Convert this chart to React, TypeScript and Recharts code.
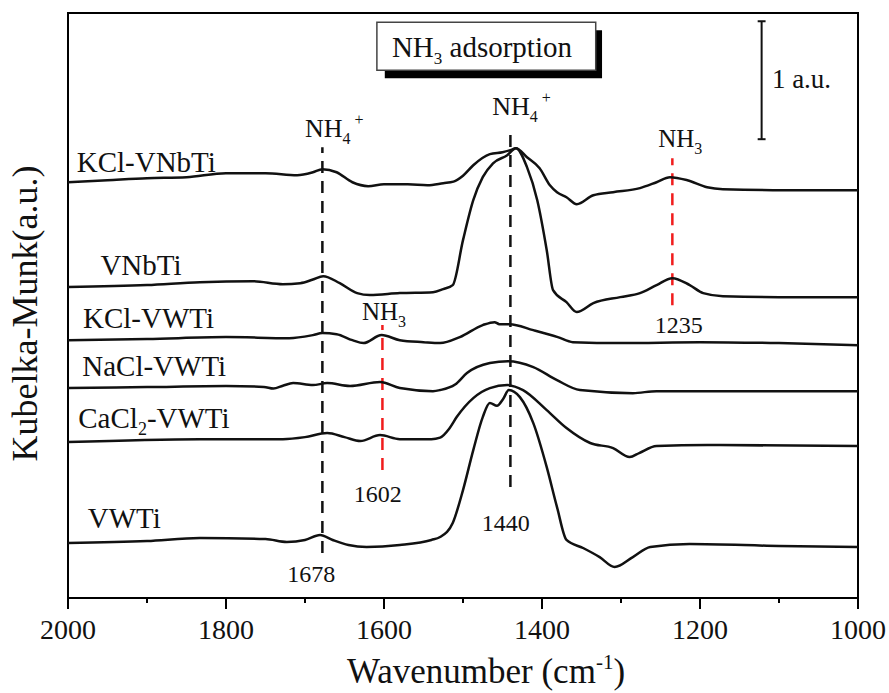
import React from "react";
import { LineChart, Line, XAxis, YAxis, ReferenceLine, ReferenceArea, ReferenceDot } from "recharts";

type Pt = [number, number];

// wavenumber (cm-1), Kubelka-Munk (a.u., stacked offsets included)
const KCL_VNBTI: Pt[] = [
  [2000, 3.525], [1950, 3.542], [1900, 3.559], [1850, 3.568], [1800, 3.602], [1750, 3.602], [1710, 3.585],
  [1690, 3.61], [1678, 3.636], [1660, 3.61], [1640, 3.525], [1620, 3.492], [1600, 3.508], [1570, 3.508],
  [1545, 3.5], [1525, 3.517], [1512, 3.53], [1500, 3.58], [1487, 3.669], [1466, 3.763], [1450, 3.78],
  [1440, 3.797], [1433, 3.814], [1419, 3.737], [1403, 3.644], [1390, 3.5], [1381, 3.441], [1369, 3.398],
  [1356, 3.339], [1335, 3.415], [1310, 3.441], [1276, 3.475], [1255, 3.525], [1238, 3.568], [1216, 3.542],
  [1191, 3.483], [1171, 3.466], [1108, 3.458], [1000, 3.458],
];

const VNBTI: Pt[] = [
  [2000, 2.636], [1900, 2.653], [1833, 2.678], [1766, 2.686], [1728, 2.661], [1706, 2.669], [1690, 2.7],
  [1677, 2.729], [1656, 2.669], [1634, 2.585], [1618, 2.568], [1580, 2.585], [1538, 2.593], [1525, 2.619],
  [1513, 2.653], [1500, 3.034], [1487, 3.373], [1475, 3.568], [1462, 3.686], [1444, 3.754], [1433, 3.814],
  [1419, 3.653], [1406, 3.373], [1394, 2.949], [1386, 2.61], [1369, 2.508], [1356, 2.424], [1335, 2.5],
  [1301, 2.551], [1276, 2.585], [1255, 2.653], [1235, 2.712], [1213, 2.653], [1196, 2.585], [1171, 2.559],
  [1100, 2.551], [1000, 2.551],
];

const KCL_VWTI: Pt[] = [
  [2000, 2.186], [1900, 2.195], [1800, 2.212], [1720, 2.203], [1690, 2.229], [1678, 2.246], [1660, 2.237],
  [1640, 2.186], [1626, 2.161], [1603, 2.229], [1580, 2.186], [1550, 2.169], [1529, 2.161], [1504, 2.212],
  [1475, 2.314], [1460, 2.339], [1454, 2.322], [1441, 2.322], [1411, 2.271], [1380, 2.212], [1361, 2.169],
  [1300, 2.161], [1200, 2.169], [1100, 2.161], [1000, 2.144],
];

const NACL_VWTI: Pt[] = [
  [2000, 1.78], [1900, 1.788], [1800, 1.797], [1752, 1.79], [1740, 1.776], [1728, 1.8], [1715, 1.822],
  [1690, 1.805], [1672, 1.822], [1643, 1.797], [1605, 1.831], [1580, 1.78], [1538, 1.754], [1529, 1.763],
  [1510, 1.81], [1495, 1.907], [1466, 1.992], [1443, 2.008], [1411, 1.958], [1381, 1.847], [1352, 1.763],
  [1285, 1.737], [1255, 1.754], [1000, 1.754],
];

const CACL2_VWTI: Pt[] = [
  [2000, 1.322], [1833, 1.347], [1728, 1.347], [1700, 1.364], [1672, 1.398], [1650, 1.364], [1630, 1.331],
  [1605, 1.381], [1580, 1.347], [1540, 1.347], [1529, 1.36], [1517, 1.44], [1508, 1.534], [1487, 1.695],
  [1466, 1.78], [1444, 1.805], [1424, 1.763], [1394, 1.593], [1369, 1.441], [1339, 1.314], [1310, 1.271],
  [1289, 1.195], [1277, 1.229], [1255, 1.288], [1191, 1.297], [1000, 1.288],
];

const VWTI: Pt[] = [
  [2000, 0.466], [1900, 0.483], [1833, 0.508], [1750, 0.5], [1723, 0.475], [1700, 0.492], [1681, 0.534],
  [1665, 0.492], [1645, 0.449], [1622, 0.432], [1580, 0.449], [1540, 0.492], [1529, 0.517], [1513, 0.636],
  [1500, 0.915], [1487, 1.254], [1475, 1.534], [1466, 1.653], [1457, 1.63], [1449, 1.69], [1442, 1.763],
  [1428, 1.703], [1411, 1.483], [1394, 1.11], [1381, 0.771], [1369, 0.492], [1348, 0.424], [1327, 0.347],
  [1308, 0.263], [1285, 0.347], [1263, 0.432], [1213, 0.458], [1100, 0.441], [1000, 0.432],
];

const SERIES: [string, Pt[]][] = [
  ["KCl-VNbTi", KCL_VNBTI],
  ["VNbTi", VNBTI],
  ["KCl-VWTi", KCL_VWTI],
  ["NaCl-VWTi", NACL_VWTI],
  ["CaCl2-VWTi", CACL2_VWTI],
  ["VWTi", VWTI],
];

const X_TICKS = [2000, 1900, 1800, 1700, 1600, 1500, 1400, 1300, 1200, 1100, 1000];
const X_LABELED = [2000, 1800, 1600, 1400, 1200, 1000];

const FONT = "'Liberation Serif', 'Times New Roman', serif";
const RED = "#f01c1c";

const toRows = (pts: Pt[]) => pts.map(([wn, km]) => ({ wn, km }));

const XTick = (props: any) => {
  const { x, y, payload } = props;
  const major = X_LABELED.includes(payload.value);
  return (
    <g>
      <line x1={x} x2={x} y1={y} y2={y + (major ? 11 : 5)} stroke="#000" strokeWidth={2} />
      {major && (
        <text x={x} y={y + 41} textAnchor="middle" fontSize={28} fontFamily={FONT} fill="#111">
          {payload.value}
        </text>
      )}
    </g>
  );
};

const note = (key: string, x: number, y: number, body: React.ReactNode, size = 29, anchor = "start") => (
  <ReferenceDot
    key={key}
    x={x}
    y={y}
    r={0}
    ifOverflow="visible"
    shape={(p: any) => (
      <text x={p.cx} y={p.cy} fontSize={size} fontFamily={FONT} fill="#111" textAnchor={anchor}>
        {body}
      </text>
    )}
  />
);

const nh4 = (
  <>
    NH<tspan dy={7} fontSize={16}>4</tspan>
    <tspan dy={-19} dx={4} fontSize={16}>+</tspan>
  </>
);
const nh3 = (
  <>
    NH<tspan dy={7} fontSize={16}>3</tspan>
  </>
);

export default function App() {
  return (
    <div style={{ position: "absolute", left: 0, top: 0, background: "#fff" }}>
      <LineChart width={889} height={693} margin={{ top: 13, right: 31, bottom: 0, left: 0 }}>
        <XAxis
          dataKey="wn"
          type="number"
          domain={[1000, 2000]}
          reversed
          ticks={X_TICKS}
          interval={0}
          tick={<XTick />}
          tickLine={false}
          tickSize={0}
          tickMargin={0}
          height={95}
          axisLine={{ stroke: "#000", strokeWidth: 2 }}
          label={{
            content: (p: any) => (
              <text x={p.viewBox.x + 279} y={p.viewBox.y + 85} fontSize={35} fontFamily={FONT} fill="#111">
                Wavenumber (cm<tspan dy={-14} fontSize={21}>-1</tspan>
                <tspan dy={14}>)</tspan>
              </text>
            ),
          }}
        />
        <YAxis
          type="number"
          domain={[0, 4.96]}
          ticks={[0, 1, 2, 3, 4]}
          width={68}
          tick={false}
          tickLine={false}
          axisLine={false}
          label={{
            content: (p: any) => {
              const cx = p.viewBox.x + 37;
              const cy = p.viewBox.y + p.viewBox.height / 2 + 8;
              return (
                <text
                  x={cx}
                  y={cy}
                  transform={`rotate(-90 ${cx} ${cy})`}
                  textAnchor="middle"
                  fontSize={36}
                  fontFamily={FONT}
                  fill="#111"
                >
                  Kubelka-Munk(a.u.)
                </text>
              );
            },
          }}
        />

        <ReferenceArea x1={2000} x2={1000} y1={0} y2={4.96} fill="none" stroke="#000" strokeWidth={2} />

        {/* title box with drop shadow */}
        <ReferenceArea x1={1599} x2={1324} y1={4.407} y2={4.814} fill="#000" stroke="none" fillOpacity={1} />
        <ReferenceArea x1={1609} x2={1332} y1={4.475} y2={4.881} fill="#fff" fillOpacity={1} stroke="#444" strokeWidth={1.5} />
        {note("title", 1590, 4.585, (
          <>
            NH<tspan dy={7} fontSize={17}>3</tspan>
            <tspan dy={-7}> adsorption</tspan>
          </>
        ), 29)}

        {/* 1 a.u. scale bar */}
        <ReferenceLine segment={[{ x: 1122, y: 3.89 }, { x: 1122, y: 4.89 }]} stroke="#111" strokeWidth={2} />
        <ReferenceLine segment={[{ x: 1127, y: 3.89 }, { x: 1117, y: 3.89 }]} stroke="#111" strokeWidth={2} />
        <ReferenceLine segment={[{ x: 1127, y: 4.89 }, { x: 1117, y: 4.89 }]} stroke="#111" strokeWidth={2} />
        {note("au", 1109, 4.322, "1 a.u.", 27)}

        {/* band markers */}
        <ReferenceLine segment={[{ x: 1678, y: 0.381 }, { x: 1678, y: 3.822 }]} stroke="#111" strokeWidth={2.5} strokeDasharray="12 8" />
        <ReferenceLine segment={[{ x: 1440, y: 0.941 }, { x: 1440, y: 3.983 }]} stroke="#111" strokeWidth={2.5} strokeDasharray="12 8" />
        <ReferenceLine segment={[{ x: 1235, y: 2.483 }, { x: 1235, y: 3.729 }]} stroke={RED} strokeWidth={2.5} strokeDasharray="12 8" />
        <ReferenceLine segment={[{ x: 1602, y: 1.085 }, { x: 1602, y: 2.314 }]} stroke={RED} strokeWidth={2.5} strokeDasharray="12 8" />

        {SERIES.map(([name, pts]) => (
          <Line
            key={name}
            name={name}
            data={toRows(pts)}
            dataKey="km"
            type="monotone"
            stroke="#111"
            strokeWidth={2.5}
            dot={false}
            activeDot={false}
            isAnimationActive={false}
          />
        ))}

        {note("n1", 1700, 3.907, nh4, 26)}
        {note("n2", 1463, 4.093, nh4, 26)}
        {note("n3", 1253, 3.822, nh3, 25)}
        {note("n4", 1628, 2.356, nh3, 25)}
        {note("w1", 1692, 0.136, "1678", 24, "middle")}
        {note("w2", 1608, 0.814, "1602", 24, "middle")}
        {note("w3", 1446, 0.568, "1440", 24, "middle")}
        {note("w4", 1227, 2.246, "1235", 24, "middle")}

        {note("l1", 1989, 3.61, "KCl-VNbTi")}
        {note("l2", 1959, 2.737, "VNbTi")}
        {note("l3", 1981, 2.288, "KCl-VWTi")}
        {note("l4", 1982, 1.881, "NaCl-VWTi")}
        {note("l5", 1987, 1.441, (
          <>
            CaCl<tspan dy={7} fontSize={18}>2</tspan>
            <tspan dy={-7}>-VWTi</tspan>
          </>
        ))}
        {note("l6", 1975, 0.593, "VWTi")}
      </LineChart>
    </div>
  );
}
